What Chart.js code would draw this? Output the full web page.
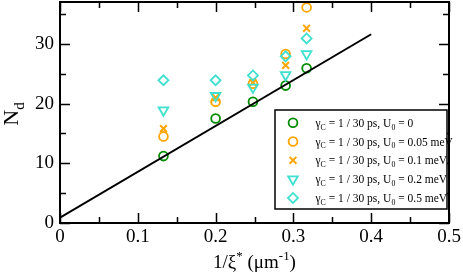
<!DOCTYPE html>
<html>
<head>
<meta charset="utf-8">
<script src="https://cdn.jsdelivr.net/npm/chart.js@4.4.1/dist/chart.umd.min.js"></script>
<style>
  html, body { margin: 0; padding: 0; background: #fff; }
  #wrap { width: 463px; height: 275px; }
</style>
</head>
<body>
<div id="wrap"><canvas id="nd-chart" width="463" height="275"></canvas></div>
<script>
const X_VALUES = [0.133, 0.2, 0.248, 0.29, 0.317];
const ND_U0_0 = [11.2, 17.5, 20.3, 23.0, 25.9];
const ND_U0_005 = [14.5, 20.3, 23.3, 28.3, 36.1];
const ND_U0_01 = [15.8, 21.0, 23.5, 26.4, 32.6];
const ND_U0_02 = [18.9, 21.3, 22.7, 24.8, 28.3];
const ND_U0_05 = [23.9, 23.9, 24.7, 27.9, 30.9];
const FIT_X = [0, 0.4];
const FIT_Y = [0.9, 31.6];
const X_TICKS = [0, 0.1, 0.2, 0.3, 0.4, 0.5];
const Y_TICKS = [0, 10, 20, 30];
const LEGEND_U0 = ['0', '0.05 meV', '0.1 meV', '0.2 meV', '0.5 meV'];

const GREEN = 'rgb(0,139,0)';
const ORANGE = 'rgb(255,165,0)';
const TURQ = 'rgb(64,224,208)';
const FONT = '"Liberation Serif", "DejaVu Serif", serif';

const toPoints = (xs, ys) => xs.map((x, i) => ({ x: x, y: ys[i] }));

const series = [
  { data: ND_U0_0, color: GREEN, style: 'circle', radius: 4.4, rotation: 0, width: 1.8, order: 5 },
  { data: ND_U0_005, color: ORANGE, style: 'circle', radius: 4.4, rotation: 0, width: 1.8, order: 4 },
  { data: ND_U0_01, color: ORANGE, style: 'crossRot', radius: 4.8, rotation: 0, width: 2, order: 3 },
  { data: ND_U0_02, color: TURQ, style: 'triangle', radius: 5.6, rotation: 180, width: 1.8, order: 2 },
  { data: ND_U0_05, color: TURQ, style: 'rectRot', radius: 5, rotation: 0, width: 1.8, order: 1 }
];

// draws text pieces with sub/superscripts
const drawRich = (ctx, parts, x, y, size, align) => {
  const widths = parts.map(p => {
    ctx.font = (p.sub || p.sup ? size * 0.68 : size) + 'px ' + FONT;
    return ctx.measureText(p.t).width;
  });
  const total = widths.reduce((a, b) => a + b, 0);
  let cx = align === 'center' ? x - total / 2 : x;
  parts.forEach((p, i) => {
    ctx.font = (p.sub || p.sup ? size * 0.68 : size) + 'px ' + FONT;
    let dy = 0;
    if (p.sub) dy = size * 0.25;
    if (p.sup) dy = -size * 0.4;
    ctx.fillText(p.t, cx, y + dy);
    cx += widths[i];
  });
};

const framePlugin = {
  id: 'frame',
  afterDatasetsDraw(chart) {
    const ctx = chart.ctx;
    const a = chart.chartArea;
    const xs = chart.scales.x;
    const ys = chart.scales.y;
    ctx.save();
    ctx.strokeStyle = '#000';
    ctx.lineWidth = 2;
    ctx.strokeRect(a.left, a.top, a.right - a.left, a.bottom - a.top);
    ctx.lineWidth = 1.5;
    ctx.beginPath();
    for (let v = 0; v <= 0.5001; v += 0.05) {
      const px = Math.round(xs.getPixelForValue(v)) + 0.5;
      const len = Math.abs(v * 10 - Math.round(v * 10)) < 1e-6 ? 10 : 6;
      ctx.moveTo(px, a.bottom); ctx.lineTo(px, a.bottom - len);
      ctx.moveTo(px, a.top); ctx.lineTo(px, a.top + len);
    }
    for (let v = 0; v <= 37; v += 5) {
      const py = Math.round(ys.getPixelForValue(v)) + 0.5;
      const len = v % 10 === 0 ? 10 : 6;
      ctx.moveTo(a.left, py); ctx.lineTo(a.left + len, py);
      ctx.moveTo(a.right, py); ctx.lineTo(a.right - len, py);
    }
    ctx.stroke();
    ctx.restore();
  },
  afterDraw(chart) {
    const ctx = chart.ctx;
    const a = chart.chartArea;
    ctx.save();
    ctx.fillStyle = '#000';
    ctx.textBaseline = 'alphabetic';
    ctx.textAlign = 'left';

    // x axis title
    drawRich(ctx, [
      { t: '1/\u03be' }, { t: '*', sup: true }, { t: ' (\u03bcm' }, { t: '-1', sup: true }, { t: ')' }
    ], (a.left + a.right) / 2, 268, 19, 'center');

    // y axis title
    ctx.save();
    ctx.translate(18, 114);
    ctx.rotate(-Math.PI / 2);
    drawRich(ctx, [{ t: 'N' }, { t: 'd', sub: true }], 0, 0, 22, 'center');
    ctx.restore();

    // legend
    const lx = 275, ly = 110, lw = 172, lh = 99;
    ctx.fillStyle = '#fff';
    ctx.fillRect(lx, ly, lw, lh);
    ctx.strokeStyle = '#000';
    ctx.lineWidth = 1.5;
    ctx.strokeRect(lx, ly, lw, lh);
    series.forEach((s, i) => {
      const ry = 122.7 + i * 18.8;
      ctx.save();
      ctx.strokeStyle = s.color;
      ctx.fillStyle = 'rgba(0,0,0,0)';
      ctx.lineWidth = s.width;
      Chart.helpers.drawPoint(ctx, { pointStyle: s.style, radius: s.radius, rotation: s.rotation, borderWidth: s.width }, 293, ry);
      ctx.restore();
      ctx.fillStyle = '#000';
      drawRich(ctx, [
        { t: '\u03b3' }, { t: 'C', sub: true }, { t: ' = 1 / 30 ps, U' }, { t: '0', sub: true }, { t: ' = ' + LEGEND_U0[i] }
      ], 315.5, ry + 4, 11.5, 'left');
    });
    ctx.restore();
  }
};

const datasets = series.map(s => ({
  data: toPoints(X_VALUES, s.data),
  pointStyle: s.style,
  pointRadius: s.radius,
  pointRotation: s.rotation,
  pointBorderWidth: s.width,
  pointBorderColor: s.color,
  pointBackgroundColor: 'rgba(0,0,0,0)',
  borderColor: s.color,
  showLine: false,
  order: s.order
}));
datasets.push({
  data: toPoints(FIT_X, FIT_Y),
  showLine: true,
  borderColor: '#000',
  borderWidth: 2,
  pointRadius: 0,
  order: 0
});

new Chart(document.getElementById('nd-chart'), {
  type: 'scatter',
  data: { datasets },
  options: {
    responsive: false,
    animation: false,
    events: [],
    layout: { autoPadding: false, padding: { top: 2, right: 14, left: 0, bottom: 0 } },
    scales: {
      x: {
        type: 'linear',
        min: 0,
        max: 0.5,
        grid: { display: false, drawTicks: false },
        border: { display: false },
        afterFit: (scale) => {
          scale.height = 52;
          scale.paddingLeft = 0;
          scale.paddingRight = 0;
        },
        afterBuildTicks: (scale) => { scale.ticks = X_TICKS.map(v => ({ value: v })); },
        ticks: {
          padding: 3,
          maxRotation: 0,
          color: '#000',
          font: { family: FONT, size: 19 },
          callback: (v) => String(Number(v.toFixed(1)))
        }
      },
      y: {
        type: 'linear',
        min: 0,
        max: 37,
        grid: { display: false, drawTicks: false },
        border: { display: false },
        afterFit: (scale) => {
          scale.width = 60;
          scale.paddingTop = 0;
          scale.paddingBottom = 0;
        },
        afterBuildTicks: (scale) => { scale.ticks = Y_TICKS.map(v => ({ value: v })); },
        ticks: {
          padding: 6,
          color: '#000',
          font: { family: FONT, size: 19 },
          callback: (v) => String(v)
        }
      }
    },
    plugins: {
      legend: { display: false },
      tooltip: { enabled: false }
    }
  },
  plugins: [framePlugin]
});
</script>
</body>
</html>
